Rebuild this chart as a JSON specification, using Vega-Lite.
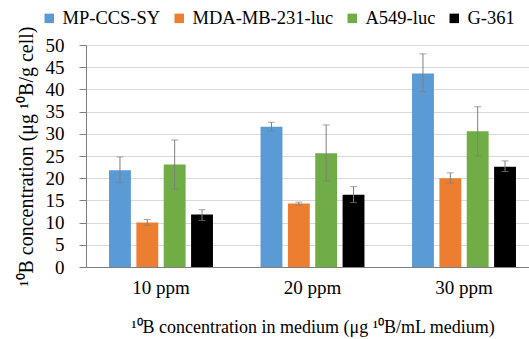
{
  "$schema": "https://vega.github.io/schema/vega-lite/v6.json",
  "width": 443,
  "height": 222,
  "autosize": {"type": "none"},
  "padding": {"left": 86, "top": 45, "right": 0, "bottom": 72},
  "background": "white",
  "data": {
    "values": [
      {"group": "10 ppm", "cell": "MP-CCS-SY", "value": 21.8, "lo": 19.0, "hi": 24.8},
      {"group": "10 ppm", "cell": "MDA-MB-231-luc", "value": 10.0, "lo": 9.4, "hi": 10.7},
      {"group": "10 ppm", "cell": "A549-luc", "value": 23.1, "lo": 17.5, "hi": 28.6},
      {"group": "10 ppm", "cell": "G-361", "value": 11.8, "lo": 10.5, "hi": 12.9},
      {"group": "20 ppm", "cell": "MP-CCS-SY", "value": 31.6, "lo": 30.6, "hi": 32.6},
      {"group": "20 ppm", "cell": "MDA-MB-231-luc", "value": 14.3, "lo": 14.0, "hi": 14.6},
      {"group": "20 ppm", "cell": "A549-luc", "value": 25.6, "lo": 19.4, "hi": 32.0},
      {"group": "20 ppm", "cell": "G-361", "value": 16.3, "lo": 14.5, "hi": 18.1},
      {"group": "30 ppm", "cell": "MP-CCS-SY", "value": 43.6, "lo": 39.5, "hi": 48.0},
      {"group": "30 ppm", "cell": "MDA-MB-231-luc", "value": 20.0, "lo": 18.9, "hi": 21.2},
      {"group": "30 ppm", "cell": "A549-luc", "value": 30.6, "lo": 25.0, "hi": 36.1},
      {"group": "30 ppm", "cell": "G-361", "value": 22.6, "lo": 21.5, "hi": 23.9}
    ]
  },
  "config": {
    "font": "Liberation Serif",
    "view": {"stroke": null},
    "axis": {
      "labelFont": "Liberation Serif",
      "titleFont": "Liberation Serif",
      "labelFontSize": 19,
      "titleFontSize": 19,
      "labelColor": "#000000",
      "titleColor": "#000000",
      "titleFontWeight": "normal",
      "domainColor": "#7f7f7f",
      "tickColor": "#7f7f7f",
      "gridColor": "#d9d9d9"
    },
    "axisX": {
      "labelAngle": 0,
      "labelPadding": 11,
      "ticks": false,
      "titlePadding": 21,
      "titleFontSize": 18
    },
    "axisY": {
      "tickCount": 10,
      "labelPadding": 15,
      "tickSize": 7,
      "titlePadding": 9,
      "titleFontSize": 20
    },
    "legend": {
      "labelFont": "Liberation Serif",
      "titleFont": "Liberation Serif",
      "labelFontSize": 18.5,
      "labelColor": "#000000",
      "padding": 0
    }
  },
  "encoding": {
    "x": {
      "field": "group",
      "type": "nominal",
      "scale": {"range": [0, 453], "paddingInner": 0.314, "paddingOuter": 0.152},
      "axis": {"title": "¹⁰B concentration in medium (μg ¹⁰B/mL medium)"}
    },
    "xOffset": {
      "field": "cell",
      "type": "nominal",
      "sort": ["MP-CCS-SY", "MDA-MB-231-luc", "A549-luc", "G-361"],
      "scale": {"paddingInner": 0.2, "paddingOuter": 0}
    }
  },
  "layer": [
    {
      "mark": {"type": "bar"},
      "encoding": {
        "y": {
          "field": "value",
          "type": "quantitative",
          "scale": {"domain": [0, 50]},
          "axis": {"title": "¹⁰B concentration (μg ¹⁰B/g cell)"}
        },
        "color": {
          "field": "cell",
          "type": "nominal",
          "scale": {
            "domain": ["MP-CCS-SY", "MDA-MB-231-luc", "A549-luc", "G-361"],
            "range": ["#5b9bd5", "#ed7d31", "#70ad47", "#000000"]
          },
          "legend": {
            "title": null,
            "orient": "none",
            "direction": "horizontal",
            "legendX": -46,
            "legendY": -36,
            "symbolType": "square",
            "symbolSize": 90,
            "symbolStrokeWidth": 0,
            "labelOffset": 4,
            "columnPadding": 9
          }
        }
      }
    },
    {
      "mark": {"type": "rule", "color": "#7f7f7f", "strokeWidth": 1},
      "encoding": {
        "y": {"field": "lo", "type": "quantitative", "axis": {"title": "¹⁰B concentration (μg ¹⁰B/g cell)"}},
        "y2": {"field": "hi"}
      }
    },
    {
      "mark": {"type": "tick", "color": "#7f7f7f", "size": 7, "thickness": 1},
      "encoding": {
        "y": {"field": "lo", "type": "quantitative", "axis": {"title": "¹⁰B concentration (μg ¹⁰B/g cell)"}}
      }
    },
    {
      "mark": {"type": "tick", "color": "#7f7f7f", "size": 7, "thickness": 1},
      "encoding": {
        "y": {"field": "hi", "type": "quantitative", "axis": {"title": "¹⁰B concentration (μg ¹⁰B/g cell)"}}
      }
    }
  ]
}
